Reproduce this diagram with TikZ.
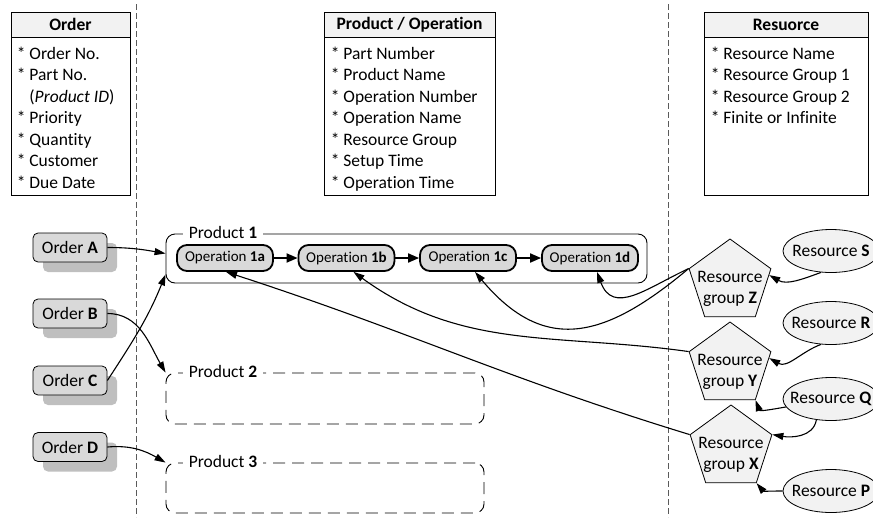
\documentclass[tikz,border=0pt]{standalone}
\usepackage{fontspec}
\setmainfont{Carlito}[RawFeature={-liga;-clig;-calt;-dlig}]
\usepackage{tikz}
\usetikzlibrary{arrows.meta, positioning, shapes.geometric, shadows}
\definecolor{fillgray}{HTML}{D9D9D9}
\definecolor{paleshade}{HTML}{F2F2F2}
\definecolor{shadowgray}{HTML}{BFBFBF}
\definecolor{linegray}{HTML}{5A5A5A}

\begin{document}
\begin{tikzpicture}[x=1pt, y=1pt,
    font=\fontsize{17.5}{21.5}\selectfont,
    thead/.style={draw, fill=paleshade, line width=0.9pt, minimum height=25pt, inner sep=0pt, font=\fontsize{17.5}{21.5}\selectfont\bfseries},
    tbody/.style={draw, fill=white, line width=0.9pt, minimum height=158pt, inner sep=0pt},
    rows/.style={anchor=north west, align=left, inner sep=0pt},
    order/.style={draw, fill=fillgray, line width=0.8pt, rounded corners=5pt, minimum width=74pt, minimum height=29pt, inner sep=0pt,
      drop shadow={shadow xshift=10pt, shadow yshift=-10pt, fill=shadowgray, opacity=1}},
    prod/.style={draw, line width=0.9pt, rounded corners=9pt, inner sep=0pt},
    prodgap/.style={dash pattern=on 12pt off 7pt},
    prodname/.style={anchor=west, fill=white, inner xsep=6pt, inner ysep=1pt},
    op/.style={draw, fill=fillgray, line width=1.8pt, rounded corners=10pt, minimum width=96pt, minimum height=26pt, inner sep=0pt, font=\fontsize{15}{18}\selectfont},
    group/.style={regular polygon, regular polygon sides=5, draw, fill=paleshade, line width=0.8pt, minimum size=86pt, inner sep=0pt},
    grouptext/.style={align=center, inner sep=0pt},
    res/.style={ellipse, draw, fill=paleshade, line width=0.8pt, minimum width=96pt, minimum height=43pt, inner xsep=-8pt, inner ysep=0pt},
    flow/.style={-{Triangle[length=11pt, width=9pt]}, line width=1.8pt},
    link/.style={-{Triangle[length=11pt, width=7pt]}, line width=1.1pt},
    divider/.style={linegray, line width=0.9pt, dash pattern=on 6pt off 3pt}
  ]
  \useasboundingbox (0,0) rectangle (873,-517);

  % tables
  \node[thead, minimum width=119pt] (ordh) at (70.5,-24.5) {Order};
  \node[tbody, minimum width=119pt, below=0pt of ordh] (ordb) {};
  \node[rows] (ordt) at ([xshift=6pt, yshift=-9pt]ordb.north west)
    {* Order No.\\* Part No.\\\hphantom{*} (\textit{Product ID})\\* Priority\\* Quantity\\* Customer\\* Due Date};

  \node[thead, minimum width=171pt] (proh) at (409.5,-24.5) {Product / Operation};
  \node[tbody, minimum width=171pt, below=0pt of proh] (prob) {};
  \node[rows] (prot) at ([xshift=7pt, yshift=-9pt]prob.north west)
    {* Part Number\\* Product Name\\* Operation Number\\* Operation Name\\* Resource Group\\* Setup Time\\* Operation Time};

  \node[thead, minimum width=164pt] (resh) at (786,-24.5) {Resuorce};
  \node[tbody, minimum width=164pt, below=0pt of resh] (resb) {};
  \node[rows] (rest) at ([xshift=7pt, yshift=-9pt]resb.north west)
    {* Resource Name\\* Resource Group 1\\* Resource Group 2\\* Finite or Infinite};

  \draw[divider] (136,-4) -- (136,-517);
  \draw[divider] (668,-4) -- (668,-517);

  % orders
  \node[order] (oa) at (70,-247.5) {Order \textbf{A}};
  \node[order] (ob) at (70,-313.5) {Order \textbf{B}};
  \node[order] (oc) at (70,-380.5) {Order \textbf{C}};
  \node[order] (od) at (70,-447) {Order \textbf{D}};

  % products
  \node[prod, minimum width=481pt, minimum height=49pt] (p1) at (406.5,-258.5) {};
  \node[prodname] (p1n) at ([xshift=17pt, yshift=1.5pt]p1.north west) {Product \textbf{1}};
  \node[prod, prodgap, minimum width=318pt, minimum height=51pt] (p2) at (325,-398.5) {};
  \node[prodname] (p2n) at ([xshift=17pt, yshift=1.5pt]p2.north west) {Product \textbf{2}};
  \node[prod, prodgap, minimum width=318pt, minimum height=50pt] (p3) at (325,-488) {};
  \node[prodname] (p3n) at ([xshift=17pt, yshift=1.5pt]p3.north west) {Product \textbf{3}};

  \node[op] (op1a) at (225,-258) {Operation \textbf{1a}};
  \node[op] (op1b) at (346.5,-258) {Operation \textbf{1b}};
  \node[op] (op1c) at (468,-258) {Operation \textbf{1c}};
  \node[op] (op1d) at (590,-258) {Operation \textbf{1d}};
  \draw[flow] (op1a) -- (op1b);
  \draw[flow] (op1b) -- (op1c);
  \draw[flow] (op1c) -- (op1d);

  % resource groups and resources
  \node[group] (gz) at (730,-282) {};
  \node[grouptext] (gzt) at ([yshift=-7pt]gz.center) {Resource\\group \textbf{Z}};
  \node[group] (gy) at (730,-365) {};
  \node[grouptext] (gyt) at ([yshift=-7pt]gy.center) {Resource\\group \textbf{Y}};
  \node[group] (gx) at (731,-448) {};
  \node[grouptext] (gxt) at ([yshift=-7pt]gx.center) {Resource\\group \textbf{X}};

  \node[res] (rs) at (831,-251) {Resource \textbf{S}};
  \node[res] (rr) at (831,-323) {Resource \textbf{R}};
  \node[res] (rq) at (831,-399) {Resource \textbf{Q}};
  \node[res] (rp) at (831,-491) {Resource \textbf{P}};

  % order -> product
  \draw[link] (oa.east) to[out=0, in=170] ([yshift=5pt]p1.west);
  \draw[link] (ob.east) to[out=0, in=120] (p2.north west);
  \draw[link] (oc.east) to[out=57, in=-112] ([yshift=-16pt]p1.west);
  \draw[link] (od.east) to[out=5, in=150] (p3.north west);

  % resource group -> operation
  \draw[link] (gz.corner 2) to[out=205, in=-70, looseness=1.3] ([xshift=7pt]op1d.south);
  \draw[link] (gz.corner 2) to[out=220, in=-50, looseness=1.3] ([xshift=7pt]op1c.south);
  \draw[link] (gy.corner 2) to[out=172, in=-36] ([xshift=7pt]op1b.south);
  \draw[link] (gx.corner 2) to[out=163, in=-18] ([xshift=1pt]op1a.south);

  % resource -> resource group
  \draw[link] (rs.245) to[out=200, in=-30] (gz.10);
  \draw[link] (rr.245) to[out=200, in=-30] (gy.10);
  \draw[link] (rq.190) to[out=190, in=-70] (gy.corner 4);
  \draw[link] (rq.235) to[out=-100, in=-10] (gx.corner 5);
  \draw[link] (rp.180) to[out=180, in=-50] (gx.corner 4);
\end{tikzpicture}
\end{document}
